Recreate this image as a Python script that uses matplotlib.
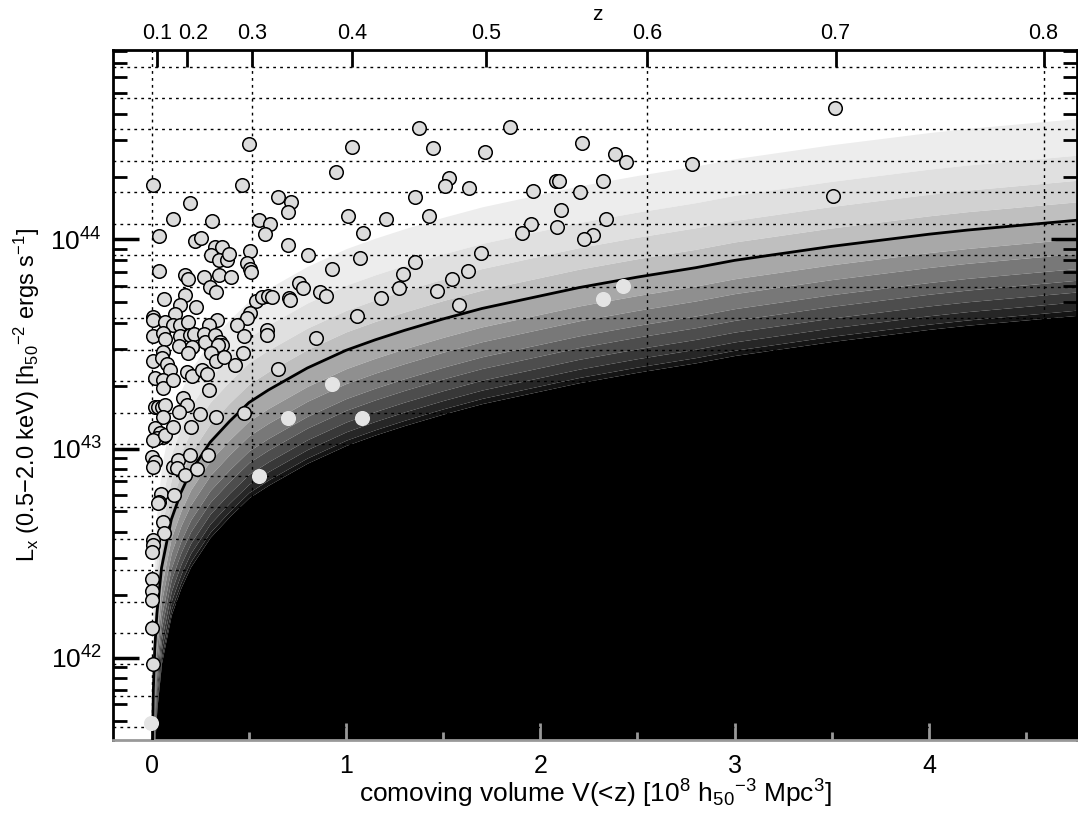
import numpy as np
import matplotlib.pyplot as plt
from matplotlib.ticker import FixedLocator, NullFormatter

plt.rcParams['font.family'] = ['Liberation Sans', 'DejaVu Sans']
plt.rcParams['mathtext.default'] = 'regular'

# flux-limit curve: volume (1e8 h50^-3 Mpc^3) and log10 Lx
curve_V = [0.0005, 0.001, 0.002, 0.004, 0.008, 0.015, 0.026, 0.05, 0.1, 0.15,
           0.2, 0.3, 0.4, 0.5, 0.6, 0.8, 1.0, 1.15, 1.3, 1.5, 1.7, 2.0, 2.2,
           2.5, 2.8, 3.0, 3.5, 4.0, 4.2, 4.8]
curve_logL = [41.03, 41.23, 41.43, 41.63, 41.85, 42.04, 42.21, 42.43, 42.66, 42.79,
              42.89, 43.03, 43.13, 43.22, 43.28, 43.385, 43.47, 43.52, 43.565,
              43.62, 43.67, 43.73, 43.77, 43.82, 43.865, 43.90, 43.967, 44.025,
              44.045, 44.095]

# shaded bands: offsets (dex) from the curve and their grey levels
band_offsets = [0.486, 0.311, 0.191, 0.088, 0.0, -0.088, -0.159, -0.231, -0.287,
                -0.343, -0.390, -0.430, -0.455]
band_greys = [0.93, 0.88, 0.82, 0.75, 0.66, 0.56, 0.47, 0.38, 0.30, 0.22, 0.15,
              0.08]

# clusters above the limit (black outline)
pts_V = [0.008, 0.466, 0.502, 0.197, 0.111, 0.310, 0.554, 0.609, 0.039, 0.585,
         0.223, 0.252, 0.326, 0.363, 0.305, 0.346, 0.386, 0.399, 0.506, 0.492,
         0.506, 0.513, 0.038, 0.171, 0.185, 0.266, 0.346, 0.407, 0.300, 0.331,
         0.063, 0.171, 0.146, 0.228, 0.008, 0.120, 0.537, 0.566, 0.600, 0.618,
         0.506, 0.489, 0.335, 0.295, 0.437, 0.007, 0.068, 0.111, 0.146, 0.188,
         0.008, 0.060, 0.068, 0.146, 0.197, 0.218, 0.266, 0.274, 0.326, 0.352,
         0.360, 0.343, 0.475, 0.592, 0.592, 0.142, 0.206, 0.188, 0.060, 0.304,
         0.331, 0.369, 0.468, 0.008, 0.051, 0.077, 0.094, 0.180, 0.206, 0.257,
         0.283, 0.429, 0.017, 0.060, 0.060, 0.111, 0.295, 0.163, 0.180, 0.017,
         0.034, 0.051, 0.068, 0.060, 0.142, 0.249, 0.331, 0.475, 0.017, 0.043,
         0.060, 0.026, 0.008, 0.068, 0.111, 0.201, 0.000, 0.017, 0.008, 0.111,
         0.137, 0.129, 0.197, 0.291, 0.171, 0.235, 0.046, 0.039, 0.034, 0.115,
         0.060, 0.063, 0.008, 0.008, 0.003, 0.000, 0.003, 0.000, 0.000, 0.005,
         1.376, 1.032, 1.449, 0.949, 1.532, 1.510, 0.652, 0.715, 0.703, 1.355,
         1.009, 1.206, 1.429, 1.089, 0.700, 0.806, 1.072, 1.355, 0.930, 1.292,
         0.758, 0.777, 0.708, 0.712, 0.866, 0.896, 1.273, 1.179, 1.467, 1.544,
         1.582, 1.055, 0.846, 0.652,
         3.516, 1.843, 1.716, 2.215, 2.385, 2.440, 2.782, 1.635, 1.962, 2.082,
         2.097, 2.203, 2.324, 3.505, 2.107, 1.954, 1.904, 2.084, 2.340, 2.271,
         2.227, 1.694, 1.630]
pts_logL = [44.260, 44.261, 44.456, 44.172, 44.096, 44.089, 44.092, 44.073, 44.016, 44.024,
            43.992, 44.005, 43.965, 43.965, 43.928, 43.901, 43.904, 43.930, 43.944, 43.888,
            43.858, 43.845, 43.847, 43.828, 43.812, 43.821, 43.828, 43.821, 43.771, 43.750,
            43.716, 43.734, 43.686, 43.675, 43.630, 43.643, 43.707, 43.726, 43.729, 43.726,
            43.649, 43.622, 43.614, 43.589, 43.589, 43.614, 43.606, 43.590, 43.590, 43.606,
            43.538, 43.551, 43.522, 43.538, 43.543, 43.547, 43.547, 43.511, 43.543, 43.511,
            43.495, 43.495, 43.538, 43.566, 43.543, 43.490, 43.487, 43.455, 43.463, 43.455,
            43.420, 43.436, 43.458, 43.420, 43.431, 43.404, 43.375, 43.367, 43.347, 43.375,
            43.356, 43.399, 43.336, 43.327, 43.288, 43.327, 43.280, 43.240, 43.208, 43.200,
            43.197, 43.200, 43.208, 43.149, 43.176, 43.165, 43.149, 43.168, 43.097, 43.073,
            43.056, 43.049, 43.041, 43.065, 43.104, 43.101, 42.961, 42.937, 42.913, 42.913,
            42.945, 42.905, 42.969, 42.969, 42.873, 42.901, 42.783, 42.746, 42.738, 42.778,
            42.650, 42.598, 42.563, 42.539, 42.507, 42.375, 42.320, 42.276, 42.143, 41.968,
            44.531, 44.443, 44.435, 44.323, 44.292, 44.255, 44.204, 44.177, 44.132, 44.201,
            44.111, 44.100, 44.113, 44.029, 43.973, 43.928, 43.909, 43.890, 43.857, 43.833,
            43.790, 43.766, 43.718, 43.710, 43.750, 43.730, 43.769, 43.718, 43.753, 43.809,
            43.686, 43.635, 43.527, 43.380,
            44.631, 44.538, 44.419, 44.462, 44.411, 44.371, 44.363, 44.244, 44.234, 44.279,
            44.279, 44.228, 44.279, 44.210, 44.141, 44.076, 44.032, 44.059, 44.096, 44.019,
            44.000, 43.933, 43.848]

# clusters below the limit (no outline)
low_V = [0.928, 0.703, 1.084, 0.552, -0.004, 2.424, 2.322]
low_logL = [43.308, 43.144, 43.147, 42.870, 41.686, 43.778, 43.716]

# redshift axis on top (the 0.2 label sits a little right of its tick)
z_labels = ['0.1', '0.2', '0.3', '0.4', '0.5', '0.6', '0.7', '0.8']
z_pos_V = [0.027, 0.18, 0.516, 1.03, 1.72, 2.55, 3.52, 4.59]

# dotted guide lines
hline_logL = np.arange(41.6665, 44.85, 0.1505)
vline_V = [0.0, 0.516, 2.55, 4.59]

fig = plt.figure(figsize=(10.78, 8.17), dpi=100)
ax = fig.add_axes([0.1048, 0.0942, 0.8942, 0.8446])

xlo, xhi = -0.2, 4.762
ylo, yhi = 10**41.606, 10**44.906

# shading bands
cV = np.array(curve_V)
cL = np.array(curve_logL)
Vfill = np.concatenate([cV, [xhi + 0.1]])
Lfill = np.concatenate([cL, [cL[-1] + 0.01]])
for i in range(len(band_greys)):
    top = 10**(Lfill + band_offsets[i])
    bot = 10**(Lfill + band_offsets[i + 1])
    g = band_greys[i]
    ax.fill_between(Vfill, bot, top, color=(g, g, g), lw=0, zorder=1)
ax.fill_between(Vfill, ylo / 10, 10**(Lfill + band_offsets[-1]), color='black',
                lw=0, zorder=1)

# dotted grid
for h in hline_logL:
    ax.axhline(10**h, color='black', ls=(0, (2, 3)), lw=1.0, zorder=2)
for v in vline_V:
    ax.axvline(v, color='black', ls=(0, (2, 3)), lw=1.0, zorder=2)

ax.plot(cV, 10**cL, color='black', lw=2, zorder=3)

ax.scatter(pts_V, 10**np.array(pts_logL), s=95, facecolor='#dcdcdc',
           edgecolor='black', linewidth=1.1, zorder=4)
ax.scatter(low_V, 10**np.array(low_logL), s=95, facecolor='#e4e4e4',
           edgecolor='#e4e4e4', linewidth=1.1, zorder=4)

ax.set_yscale('log')
ax.set_xlim(xlo, xhi)
ax.set_ylim(ylo, yhi)

# bottom axis
ax.set_xticks([0, 1, 2, 3, 4])
ax.set_xticks([0.5, 1.5, 2.5, 3.5, 4.5], minor=True)
ax.tick_params(axis='x', which='major', direction='in', length=12, width=2,
               color='#999999', labelsize=18, pad=10)
ax.tick_params(axis='x', which='minor', direction='in', length=6, width=2,
               color='#999999')
ax.set_xlabel(r'comoving volume V(<z) [10$^8$ h$_{50}$$^{-3}$ Mpc$^3$]',
              fontsize=19, labelpad=0)

# left axis
ax.yaxis.set_major_locator(FixedLocator([1e42, 1e43, 1e44]))
ax.set_yticklabels([r'10$^{42}$', r'10$^{43}$', r'10$^{44}$'])
minors = [m * 10.0**d for d in (41, 42, 43, 44) for m in range(2, 10)]
ax.yaxis.set_minor_locator(FixedLocator(minors))
ax.yaxis.set_minor_formatter(NullFormatter())
ax.tick_params(axis='y', which='major', direction='in', length=19, width=2.5,
               labelsize=19, right=True, pad=8)
ax.tick_params(axis='y', which='minor', direction='in', length=10, width=2,
               right=True)
ax.set_ylabel(r'L$_x$ (0.5$-$2.0 keV) [h$_{50}$$^{-2}$ ergs s$^{-1}$]',
              fontsize=17, labelpad=6)

for side in ('left', 'top', 'right'):
    ax.spines[side].set_linewidth(2)
ax.spines['bottom'].set_color('#999999')
ax.spines['bottom'].set_linewidth(2)

# top redshift axis
ax2 = ax.twiny()
ax2.set_xlim(xlo, xhi)
ax2.set_xticks(z_pos_V)
ax2.set_xticklabels(['' if s == '0.2' else s for s in z_labels])
ax2.tick_params(axis='x', direction='in', length=12, width=2, labelsize=15.5,
                pad=4)
for side in ('left', 'top', 'right', 'bottom'):
    ax2.spines[side].set_visible(False)
i2 = z_labels.index('0.2')
ax2.annotate(z_labels[i2], xy=(z_pos_V[i2], 1), xycoords=('data', 'axes fraction'),
             xytext=(4.5, 4), textcoords='offset points', ha='center',
             va='bottom', fontsize=15.5)
fig.text(597 / 1078, 1 - 15 / 817, 'z', ha='center', va='center', fontsize=15)

plt.savefig('out.png', dpi=100)
